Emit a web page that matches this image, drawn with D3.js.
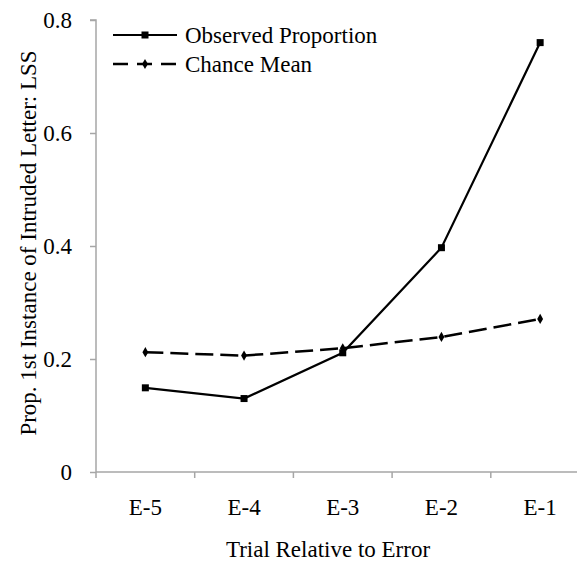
<!DOCTYPE html>
<html>
<head>
<meta charset="utf-8">
<script src="https://cdn.jsdelivr.net/npm/d3@7"></script>
<style>
  html, body { margin: 0; padding: 0; background: #fff; }
  svg { display: block; }
  text { font-family: "Liberation Serif", "Times New Roman", serif; fill: #000; }
</style>
</head>
<body>
<svg id="chart" width="577" height="565"></svg>
<script>
const categories = ["E-5", "E-4", "E-3", "E-2", "E-1"];
const observed = [0.149, 0.130, 0.211, 0.397, 0.760];
const chance = [0.212, 0.206, 0.219, 0.239, 0.271];
const yTicks = [0, 0.2, 0.4, 0.6, 0.8];
const yTickLabels = ["0", "0.2", "0.4", "0.6", "0.8"];
const seriesNames = ["Observed Proportion", "Chance Mean"];

const svg = d3.select("#chart");
const plotLeft = 96, plotRight = 589.5, plotTop = 20, plotBottom = 472;
const fs = 23;
const axisColor = "#a6a6a6";

const x = d3.scaleBand().domain(categories).range([plotLeft, plotRight]).padding(0);
const y = d3.scaleLinear().domain([0, 0.8]).range([plotBottom, plotTop]);
const cx = c => x(c) + x.bandwidth() / 2;

// Y axis
const yAxis = svg.append("g").attr("transform", `translate(${plotLeft},0)`)
  .call(d3.axisLeft(y).tickValues(yTicks).tickSize(6).tickPadding(18)
    .tickFormat((d, i) => yTickLabels[i]));
yAxis.select(".domain").attr("stroke", axisColor).attr("stroke-width", 1.5)
  .attr("d", `M-6,${plotTop}H0V${plotBottom}`);
yAxis.selectAll(".tick line").attr("stroke", axisColor).attr("stroke-width", 1.5);
yAxis.selectAll(".tick text").attr("font-size", fs)
  .attr("font-family", "Liberation Serif").attr("fill", "#000");

// X axis
const xAxis = svg.append("g").attr("transform", `translate(0,${plotBottom})`);
xAxis.append("line").attr("x1", plotLeft).attr("x2", plotRight).attr("y1", 0).attr("y2", 0)
  .attr("stroke", axisColor).attr("stroke-width", 1.5);
const boundaries = categories.map(c => x(c)).concat([plotRight]);
xAxis.selectAll("line.tk").data(boundaries).enter().append("line").attr("class", "tk")
  .attr("x1", d => d).attr("x2", d => d).attr("y1", 0).attr("y2", 6)
  .attr("stroke", axisColor).attr("stroke-width", 1.5);
xAxis.selectAll("text.lbl").data(categories).enter().append("text").attr("class", "lbl")
  .attr("x", d => cx(d)).attr("y", 43).attr("text-anchor", "middle")
  .attr("font-size", fs).text(d => d);

// Axis titles
svg.append("text").attr("x", 328).attr("y", 557).attr("text-anchor", "middle")
  .attr("font-size", fs).text("Trial Relative to Error");
svg.append("text").attr("transform", "translate(36,243) rotate(-90)")
  .attr("text-anchor", "middle").attr("font-size", fs)
  .text("Prop. 1st Instance of Intruded Letter: LSS");

// Lines
const line = d3.line().x((d, i) => cx(categories[i])).y(d => y(d));
svg.append("path").datum(chance).attr("d", line).attr("fill", "none")
  .attr("stroke", "#000").attr("stroke-width", 2.5).attr("stroke-dasharray", "18,7");
svg.append("path").datum(observed).attr("d", line).attr("fill", "none")
  .attr("stroke", "#000").attr("stroke-width", 2.2);

// Markers
const sq = 7;
svg.selectAll("rect.obs").data(observed).enter().append("rect").attr("class", "obs")
  .attr("x", (d, i) => cx(categories[i]) - sq / 2).attr("y", d => y(d) - sq / 2)
  .attr("width", sq).attr("height", sq).attr("fill", "#000");
const diamond = d3.symbol().type(d3.symbolDiamond).size(30);
svg.selectAll("path.ch").data(chance).enter().append("path").attr("class", "ch")
  .attr("d", diamond)
  .attr("transform", (d, i) => `translate(${cx(categories[i])},${y(d)})`)
  .attr("fill", "#000");

// Legend
const lg = svg.append("g");
lg.append("line").attr("x1", 113).attr("x2", 177).attr("y1", 35).attr("y2", 35)
  .attr("stroke", "#000").attr("stroke-width", 2.2);
lg.append("rect").attr("x", 145 - sq / 2).attr("y", 35 - sq / 2).attr("width", sq).attr("height", sq)
  .attr("fill", "#000");
lg.append("text").attr("x", 185).attr("y", 43).attr("font-size", fs).text(seriesNames[0]);
lg.append("line").attr("x1", 113).attr("x2", 177).attr("y1", 64).attr("y2", 64)
  .attr("stroke", "#000").attr("stroke-width", 2.5).attr("stroke-dasharray", "15,9,15,9");
lg.append("path").attr("d", diamond).attr("transform", "translate(145,64)").attr("fill", "#000");
lg.append("text").attr("x", 185).attr("y", 72).attr("font-size", fs).text(seriesNames[1]);
</script>
</body>
</html>
